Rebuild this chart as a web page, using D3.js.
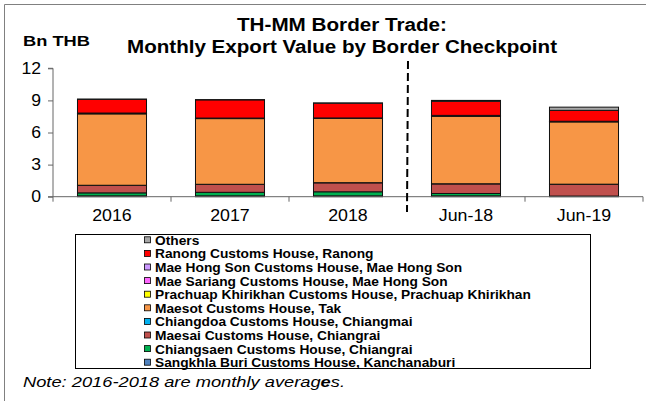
<!DOCTYPE html>
<html>
<head>
<meta charset="utf-8">
<script src="https://cdn.jsdelivr.net/npm/d3@7"></script>
<style>
  body { margin: 0; background: #fff; }
  text { font-family: "Liberation Sans", Arial, sans-serif; }
</style>
</head>
<body>
<div class="chart"></div>
<script>
// categories and series (Bn THB), bottom of stack first
var categories = ["2016", "2017", "2018", "Jun-18", "Jun-19"];
var seriesNames = [
  "Sangkhla Buri Customs House, Kanchanaburi",
  "Chiangsaen Customs House, Chiangrai",
  "Maesai Customs House, Chiangrai",
  "Chiangdoa Customs House, Chiangmai",
  "Maesot Customs House, Tak",
  "Prachuap Khirikhan Customs House, Prachuap Khirikhan",
  "Mae Sariang Customs House, Mae Hong Son",
  "Mae Hong Son Customs House, Mae Hong Son",
  "Ranong Customs House, Ranong",
  "Others"
];
var sangkhla   = [0.08, 0.08, 0.08, 0.08, 0.04];
var chiangsaen = [0.28, 0.33, 0.38, 0.22, 0.02];
var maesai     = [0.70, 0.74, 0.84, 0.90, 1.10];
var chiangdoa  = [0.01, 0.01, 0.01, 0.01, 0.01];
var maesot     = [6.68, 6.14, 6.00, 6.32, 5.82];
var prachuap   = [0.01, 0.01, 0.01, 0.01, 0.04];
var maeSariang = [0.01, 0.01, 0.01, 0.01, 0.01];
var maeHongSon = [0.05, 0.03, 0.03, 0.05, 0.01];
var ranong     = [1.28, 1.70, 1.38, 1.32, 1.02];
var others     = [0.02, 0.02, 0.02, 0.08, 0.30];
var yTicks = [0, 3, 6, 9, 12];

var seriesValues = [sangkhla, chiangsaen, maesai, chiangdoa, maesot,
                    prachuap, maeSariang, maeHongSon, ranong, others];
var colors = ["#4F81BD", "#00B050", "#C0504D", "#00B0F0", "#F79646",
              "#FFFF00", "#FF66FF", "#CC99FF", "#FF0000", "#A6A6A6"];

var width = 646, height = 401;

var svg = d3.select(".chart").append("svg")
    .attr("width", width)
    .attr("height", height);

// the source picture has horizontally widened text; stretch to match
function stretch(sel, factor) {
  sel.each(function() {
    var w = this.getComputedTextLength();
    d3.select(this).attr("textLength", w * factor).attr("lengthAdjust", "spacingAndGlyphs");
  });
}

// outer frame (open at right/bottom like the source picture)
svg.append("path")
    .attr("d", "M4.5,401 V4.5 H646")
    .attr("fill", "none")
    .attr("stroke", "#808080")
    .attr("stroke-width", 1);

// table for d3.stack
var table = categories.map(function(c, i) {
  var row = { cat: c };
  seriesNames.forEach(function(n, j) { row[n] = seriesValues[j][i]; });
  return row;
});
var stacked = d3.stack().keys(seriesNames)(table);

var x = d3.scaleBand()
    .domain(categories)
    .range([53, 643])
    .paddingInner(0.415)
    .paddingOuter(0.2075);

var y = d3.scaleLinear()
    .domain([0, 12])
    .range([196.7, 68.3]);

// bars
svg.append("g").selectAll("g")
  .data(stacked)
  .enter().append("g")
    .attr("fill", function(d, i) { return colors[i]; })
  .selectAll("rect")
  .data(function(d) { return d; })
  .enter().append("rect")
    .attr("x", function(d) { return x(d.data.cat); })
    .attr("width", x.bandwidth())
    .attr("y", function(d) { return y(d[1]); })
    .attr("height", function(d) { return y(d[0]) - y(d[1]); })
    .attr("stroke", "#111")
    .attr("stroke-width", 1);

// y axis
var yAxis = d3.axisLeft(y).tickValues(yTicks).tickSize(5).tickPadding(7);
var gy = svg.append("g").attr("transform", "translate(53,0)").call(yAxis);
gy.select(".domain").attr("stroke", "#666").attr("d", "M-5,68.3H0V196.7H-5");
gy.selectAll(".tick line").attr("stroke", "#666");
gy.selectAll(".tick text").attr("font-size", 16).attr("fill", "#000")
    .attr("font-family", "Liberation Sans, Arial, sans-serif")
    .call(stretch, 1.1);

// x axis: ticks at band boundaries
var step = x.step();
svg.append("line")
    .attr("x1", 53).attr("x2", 643)
    .attr("y1", y(0)).attr("y2", y(0))
    .attr("stroke", "#666");
svg.append("g").selectAll("line")
  .data(d3.range(categories.length + 1))
  .enter().append("line")
    .attr("x1", function(i) { return 53 + i * step; })
    .attr("x2", function(i) { return 53 + i * step; })
    .attr("y1", y(0)).attr("y2", y(0) + 5)
    .attr("stroke", "#666");
svg.append("g").selectAll("text")
  .data(categories)
  .enter().append("text")
    .attr("x", function(d) { return x(d) + x.bandwidth() / 2; })
    .attr("y", 221)
    .attr("text-anchor", "middle")
    .attr("font-size", 16)
    .text(function(d) { return d; })
    .call(stretch, 1.11);

// dashed separator between annual averages and monthly values
var sepX = 53 + 3 * step;
svg.append("line")
    .attr("x1", sepX + 1).attr("x2", sepX)
    .attr("y1", 61).attr("y2", 212)
    .attr("stroke", "#000")
    .attr("stroke-width", 2)
    .attr("stroke-dasharray", "8,4");

// titles
svg.append("text").attr("x", 342).attr("y", 31)
    .attr("text-anchor", "middle").attr("font-size", 18).attr("font-weight", "bold")
    .attr("textLength", 210).attr("lengthAdjust", "spacingAndGlyphs")
    .text("TH-MM Border Trade:");
svg.append("text").attr("x", 342).attr("y", 53)
    .attr("text-anchor", "middle").attr("font-size", 18).attr("font-weight", "bold")
    .attr("textLength", 430).attr("lengthAdjust", "spacingAndGlyphs")
    .text("Monthly Export Value by Border Checkpoint");
svg.append("text").attr("x", 23).attr("y", 46)
    .attr("font-size", 14.5).attr("font-weight", "bold")
    .attr("textLength", 67).attr("lengthAdjust", "spacingAndGlyphs")
    .text("Bn THB");

// legend
svg.append("rect")
    .attr("x", 75.5).attr("y", 234.5)
    .attr("width", 515).attr("height", 134)
    .attr("fill", "#fff").attr("stroke", "#000");

var legendOrder = d3.range(seriesNames.length).reverse();
var lg = svg.append("g").selectAll("g")
  .data(legendOrder)
  .enter().append("g")
    .attr("transform", function(d, i) { return "translate(144," + (244.3 + i * 13.6) + ")"; });
lg.append("rect")
    .attr("x", 0.5).attr("y", -7.5)
    .attr("width", 6).attr("height", 6)
    .attr("fill", function(d) { return colors[d]; })
    .attr("stroke", "#000").attr("stroke-width", 0.8);
lg.append("text")
    .attr("x", 11).attr("y", 0.5)
    .attr("font-size", 12.5).attr("font-weight", "bold")
    .text(function(d) { return seriesNames[d]; })
    .call(stretch, 1.1);

// note
var note = svg.append("text").attr("x", 23).attr("y", 387)
    .attr("font-size", 15).attr("font-style", "italic")
    .attr("textLength", 322).attr("lengthAdjust", "spacingAndGlyphs");
note.append("tspan").text("Note: 2016-2018 are monthly averag");
note.append("tspan").attr("font-weight", "bold").text("e");
note.append("tspan").text("s.");
</script>
</body>
</html>
